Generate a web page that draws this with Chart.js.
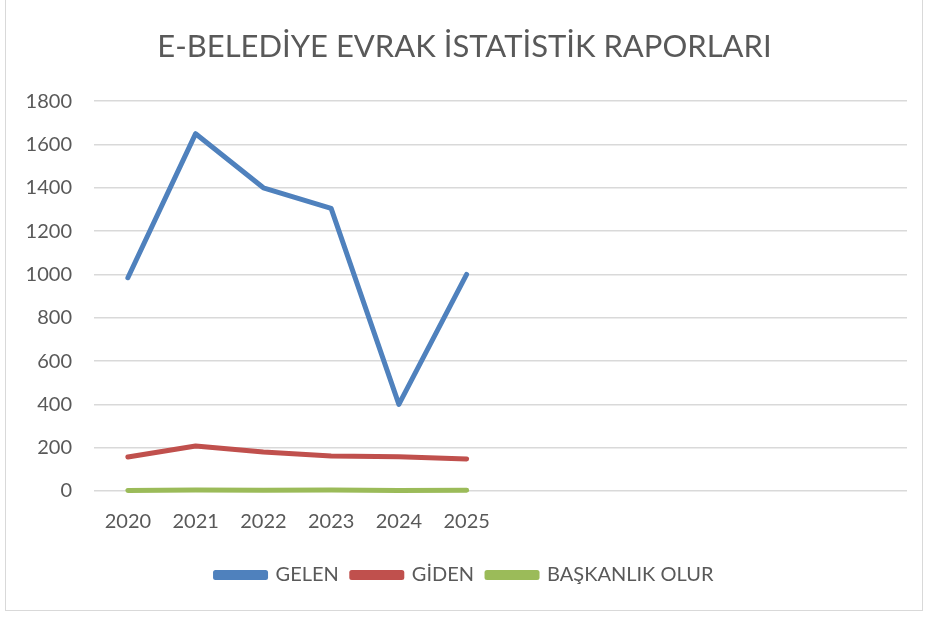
<!DOCTYPE html>
<html>
<head>
<meta charset="utf-8">
<script src="https://cdn.jsdelivr.net/npm/chart.js@4/dist/chart.umd.min.js"></script>
<style>
  html, body { margin: 0; padding: 0; background: #fff; }
  #wrap { position: relative; width: 927px; height: 617px; }
  #frame { position: absolute; left: 5px; top: -1px; width: 918px; height: 612px; border: 1px solid #d9d9d9; box-sizing: border-box; }
  canvas { position: absolute; left: 0; top: 0; }
</style>
</head>
<body>
<div id="wrap">
  <div id="frame"></div>
  <canvas id="chart" width="927" height="617"></canvas>
</div>
<script>
// categories: 6 years, the rest of the axis is empty slots
const years = ['2020', '2021', '2022', '2023', '2024', '2025', '', '', '', '', '', ''];

const gelen = [985, 1650, 1400, 1305, 400, 1000];
const giden = [157, 208, 180, 162, 158, 148];
const baskanlikOlur = [2, 5, 4, 5, 2, 4];

const yTicks = [0, 200, 400, 600, 800, 1000, 1200, 1400, 1600, 1800];

const textColor = '#595959';
const fontFamily = 'Lato, "Open Sans", sans-serif';

function series(label, data, color) {
    return {
        label: label,
        data: data,
        borderColor: color,
        backgroundColor: color,
        borderWidth: 5,
        pointRadius: 0,
        borderCapStyle: 'round',
        borderJoinStyle: 'round',
        tension: 0,
        clip: 6
    };
}

new Chart(document.getElementById('chart'), {
    type: 'line',
    data: {
        labels: years,
        datasets: [
            series('GELEN', gelen, '#4f81bd'),
            series('GİDEN', giden, '#c0504d'),
            series('BAŞKANLIK OLUR', baskanlikOlur, '#9bbb59')
        ]
    },
    options: {
        responsive: false,
        animation: false,
        layout: { padding: { left: 22, right: 20, top: 14, bottom: 22 } },
        plugins: {
            title: {
                display: true,
                text: 'E-BELEDİYE EVRAK İSTATİSTİK RAPORLARI',
                color: textColor,
                font: { family: fontFamily, size: 31, weight: 'normal' },
                padding: { top: 14, bottom: 36 }
            },
            legend: {
                position: 'bottom',
                labels: {
                    color: textColor,
                    font: { family: fontFamily, size: 20 },
                    boxWidth: 50,
                    boxHeight: 5,
                    padding: 13
                }
            },
            tooltip: { enabled: false }
        },
        scales: {
            x: {
                offset: true,
                afterFit: axis => { axis.height += 7; },
                grid: { display: false },
                border: { display: false },
                ticks: {
                    color: textColor,
                    font: { family: fontFamily, size: 20 },
                    autoSkip: false,
                    maxRotation: 0,
                    padding: 11
                }
            },
            y: {
                min: 0,
                max: 1800,
                afterBuildTicks: axis => { axis.ticks = yTicks.map(v => ({ value: v })); },
                afterFit: axis => { axis.width = 72; },
                grid: { color: '#d9d9d9', lineWidth: 1.5, drawTicks: false },
                border: { display: false },
                ticks: {
                    color: textColor,
                    font: { family: fontFamily, size: 20 },
                    padding: 22,
                    callback: v => String(v)
                }
            }
        }
    }
});
</script>
</body>
</html>
